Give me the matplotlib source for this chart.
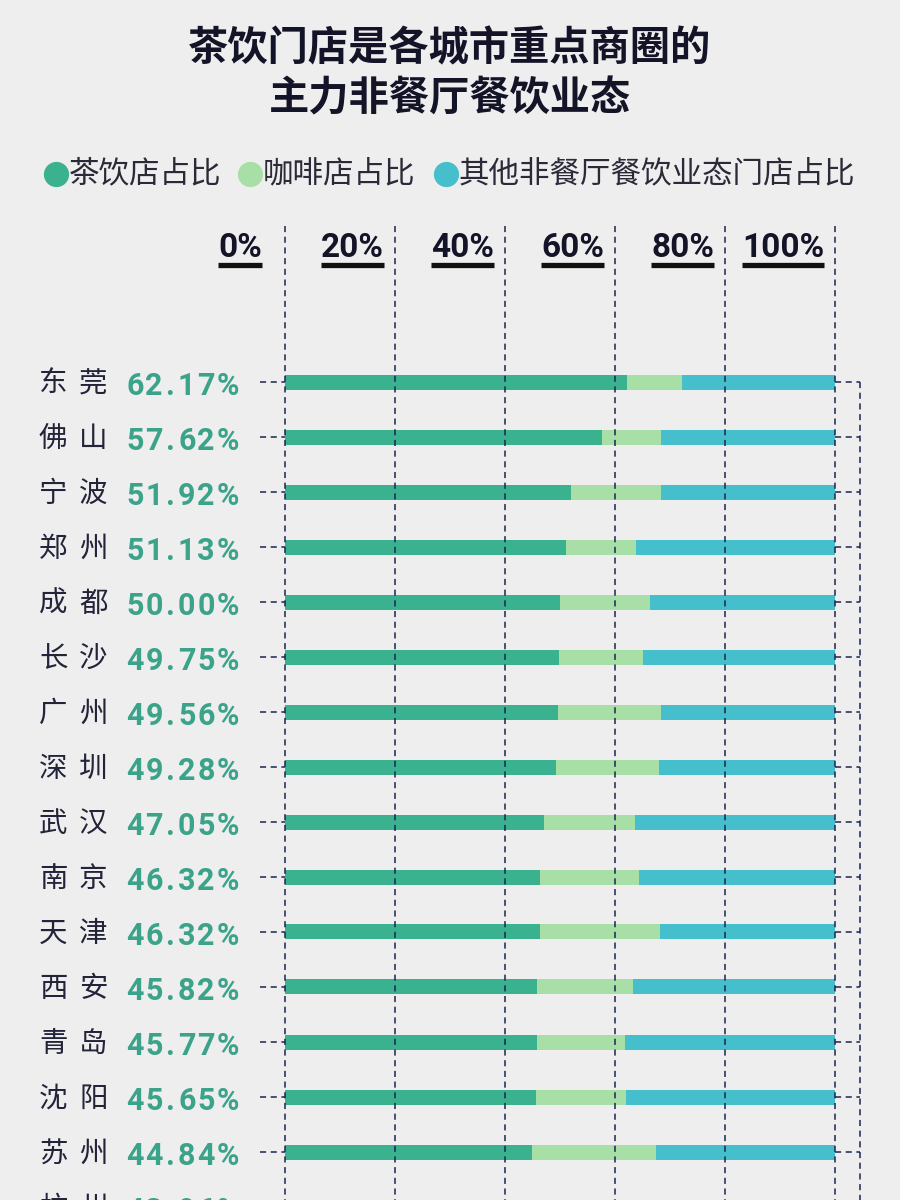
import numpy as np
import matplotlib.pyplot as plt

# data (percent of shops)
cities = ['东莞', '佛山', '宁波', '郑州', '成都', '长沙', '广州', '深圳',
          '武汉', '南京', '天津', '西安', '青岛', '沈阳', '苏州', '杭州']
tea = [62.17, 57.62, 51.92, 51.13, 50.00, 49.75, 49.56, 49.28,
       47.05, 46.32, 46.32, 45.82, 45.77, 45.65, 44.84, 43.96]
coffee = [10.0, 10.8, 16.5, 12.7, 16.4, 15.3, 18.8, 18.7,
          16.6, 18.0, 21.9, 17.4, 16.1, 16.3, 22.6, 22.5]
other = [100 - a - b for a, b in zip(tea, coffee)]
ticks = [0, 20, 40, 60, 80, 100]
series_names = ['茶饮店占比', '咖啡店占比', '其他非餐厅餐饮业态门店占比']
title = '茶饮门店是各城市重点商圈的\n主力非餐厅餐饮业态'

# style
W, H = 900, 1200
BG = '#efeeee'
C_TEA = '#3bb28f'
C_COF = '#a8dfa6'
C_OTH = '#45bfcc'
NAVY = '#1c2550'
CJK = ['Noto Sans CJK SC', 'DejaVu Sans']
NUM = ['Roboto', 'DejaVu Sans']

X0, X1 = 285, 835          # pixel span of 0..100 %
ROW0, PITCH = 382, 55      # first row centre and row pitch (px)

fig = plt.figure(figsize=(W / 100, H / 100), dpi=100, facecolor=BG)
ax = fig.add_axes([X0 / W, 0, (X1 - X0) / W, 1])
ax.set_xlim(0, 100)
ax.set_ylim((H - ROW0) / PITCH, -ROW0 / PITCH)
ax.axis('off')
px = 100 / (X1 - X0)       # data units per pixel (x)
py = 1 / PITCH             # data units per pixel (y)

# overlay axes in pixel coordinates (y down) for the texts
ov = fig.add_axes([0, 0, 1, 1], zorder=5)
ov.set_xlim(0, W)
ov.set_ylim(H, 0)
ov.axis('off')
ov.patch.set_alpha(0)

y = np.arange(len(cities))
bh = 15 * py
ax.barh(y, tea, height=bh, color=C_TEA, zorder=2)
ax.barh(y, coffee, left=tea, height=bh, color=C_COF, zorder=2)
ax.barh(y, other, left=np.add(tea, coffee), height=bh, color=C_OTH, zorder=2)

dash = dict(color=NAVY, lw=1.1, linestyle=(0, (4, 3)), clip_on=False)
# vertical grid
ax.vlines(ticks, -(ROW0 - 226) * py, len(cities), zorder=3, **dash)
# connectors left and right + bracket
ax.hlines(y, -25 * px, 0, zorder=3, **dash)
ax.hlines(y, 100, 100 + 25 * px, zorder=3, **dash)
ax.vlines(100 + 25 * px, 0, len(cities), zorder=3, **dash)

# title
ov.text(W / 2, 74, title, ha='center', va='center', fontsize=29, fontweight='bold',
        family=CJK, color='#141428', linespacing=1.3)

# legend
leg_x = [56, 250, 446]
for cx, col, name in zip(leg_x, [C_TEA, C_COF, C_OTH], series_names):
    ov.scatter([cx], [174], s=330, color=col, lw=0, clip_on=False)
    ov.text(cx + 13, 174, name, ha='left', va='center', fontsize=22,
            family=CJK, fontweight='light', color='#2a2a38')

# header tick labels with underline
fig.canvas.draw()
rend = fig.canvas.get_renderer()
for v in ticks:
    xp = ax.transData.transform((v, 0))[0]
    off = 23 if v == 0 else 11
    t = ov.text(xp - off, 257, f'{v}%', ha='right', va='baseline', fontsize=24,
                fontweight='bold', family=NUM, color='#141428')
    bb = t.get_window_extent(rend)
    ov.plot([bb.x0, bb.x1], [265, 265], color='#111111', lw=3.8,
            solid_capstyle='butt')

# row labels: city (spaced) and tea share (tracked digits)
adv = {'.': 13, '%': 20}
for i, (c, v) in enumerate(zip(cities, tea)):
    yp = H - ax.transData.transform((0, i))[1]
    for k, ch in enumerate(c):
        ov.text(39 + 40 * k, yp + 2, ch, ha='left', va='center', fontsize=20.5,
                family=CJK, fontweight='light', color='#23233a')
    xx = 126
    for ch in f'{v:.2f}%':
        ov.text(xx, yp + 13, ch, ha='left', va='baseline', fontsize=22,
                fontweight='bold', family=NUM, color='#3aa38a')
        xx += adv.get(ch, 19.5)

fig.savefig('out.png', dpi=100, facecolor=BG)
